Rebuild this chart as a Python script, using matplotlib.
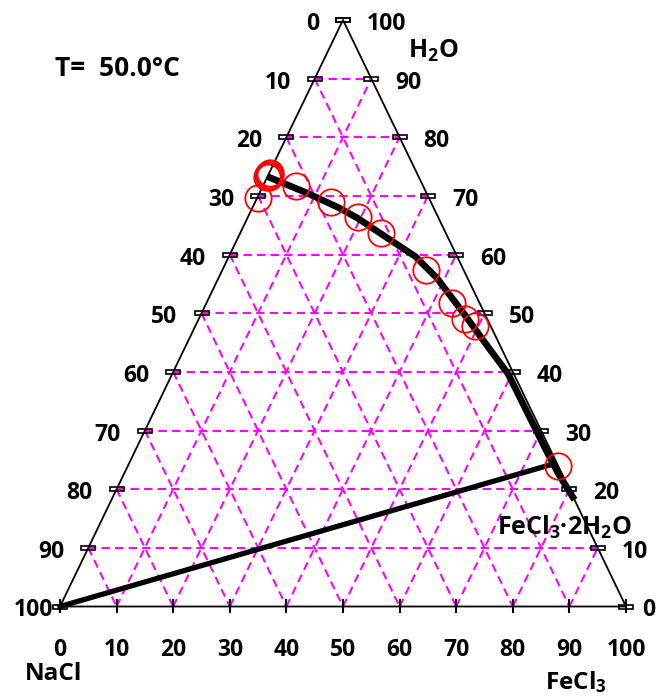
import numpy as np
import matplotlib.pyplot as plt
from matplotlib.patches import Rectangle

plt.rcParams['font.family'] = ['Open Sans', 'DejaVu Sans']
plt.rcParams['font.weight'] = 'bold'
plt.rcParams['mathtext.default'] = 'regular'

# measured compositions, wt% (FeCl3, H2O); NaCl is the rest
pts_fecl3 = [0.0, 0.3, 0.1, 0.4, 0.0, 0.2, 5.8, 13.4, 19.5, 24.8, 36.0, 43.3, 47.0, 49.4, 76.0]
pts_h2o = [73.6, 73.3, 73.9, 73.5, 73.2, 69.6, 71.7, 68.9, 66.4, 63.7, 57.3, 51.8, 49.1, 47.8, 23.9]

# solubility curve, NaCl saturation -> FeCl3.2H2O
curve_fecl3 = [0.0, 8.4, 15.5, 19.5, 27.1, 32.9, 38.6, 46.3, 54.2, 59.3, 72.0, 75.0, 77.0, 81.8]
curve_h2o = [73.3, 70.5, 67.9, 66.2, 62.5, 59.7, 56.0, 50.0, 43.7, 39.7, 27.2, 24.3, 22.4, 18.2]

# tie line NaCl corner -> invariant point
tie_fecl3 = [0.0, 75.0]
tie_h2o = [0.0, 24.3]

ticks = list(range(0, 101, 10))
fs = 16.5

W, H = 566.0, 586.5


def tern(fe, w):
    b = np.asarray(fe, dtype=float) / 100
    c = np.asarray(w, dtype=float) / 100
    return b + c / 2, c


def label(x, y, s, size=fs, **kw):
    # x, y in pixels from the top-left corner, y at the text baseline
    fig.text(x / 666, 1 - y / 698, s, fontsize=size, fontweight='bold', va='baseline', **kw)


fig = plt.figure(figsize=(6.66, 6.98), dpi=100)
ax = fig.add_axes([60 / 666, 91.5 / 698, W / 666, H / 698])
ax.set_xlim(0, 1)
ax.set_ylim(0, 1)
ax.axis('off')

grid_kw = dict(color='#ff00ff', lw=1.5, ls=(0, (4, 2.5)), zorder=1)
for k in ticks[1:-1]:
    ax.plot(*tern([0, 100 - k], [k, k]), **grid_kw)
    ax.plot(*tern([k, k], [0, 100 - k]), **grid_kw)
    ax.plot(*tern([0, 100 - k], [100 - k, 0]), **grid_kw)

# triangle
ax.plot(*tern([0, 100, 0, 0], [0, 0, 100, 0]), color='black', lw=1.3, zorder=2, clip_on=False)

# side ticks (small hollow bars) and labels
tw, th = 14 / W, 4 / H
for k in ticks:
    lx, ly = tern(0, k)
    rx, ry = tern(100 - k, k)
    for x, y in [(lx, ly), (rx, ry)]:
        ax.add_patch(Rectangle((x - tw / 2, y - th / 2), tw, th, fill=False,
                               ec='black', lw=1.2, zorder=3, clip_on=False))
    loff = -7 if k == 0 else -24
    roff = 16 if k == 0 else 24
    ax.annotate(str(100 - k), (lx, ly), xytext=(loff, -10), textcoords='offset pixels',
                ha='right', va='baseline', fontsize=fs, fontweight='bold', annotation_clip=False)
    ax.annotate(str(k), (rx, ry), xytext=(roff, -10), textcoords='offset pixels',
                ha='left', va='baseline', fontsize=fs, fontweight='bold', annotation_clip=False)

# bottom ticks and labels
for k in ticks:
    x = k / 100
    ax.plot([x, x], [-5 / H, 7 / H], color='black', lw=1.5, zorder=3, clip_on=False)
    ax.annotate(str(k), (x, 0), xytext=(0, -50), textcoords='offset pixels',
                ha='center', va='baseline', fontsize=fs, fontweight='bold', annotation_clip=False)

# curves
ax.plot(*tern(curve_fecl3, curve_h2o), color='black', lw=4.8, zorder=4,
        solid_joinstyle='round', solid_capstyle='butt')
ax.plot(*tern(tie_fecl3, tie_h2o), color='black', lw=3.8, zorder=4, clip_on=False)

# data points
ax.plot(*tern(pts_fecl3, pts_h2o), ls='none', marker='o', ms=19, mfc='none',
        mec='#ff0000', mew=1.3, zorder=5)

# component names and temperature
label(25, 680, 'NaCl', 17.5)
label(545, 689, 'FeCl$_3$', 17.5)
label(408, 58, 'H$_2$O', 18)
label(497, 535, 'FeCl$_3$·2H$_2$O', 18)
label(55, 76, 'T=  50.0°C', 19)

fig.savefig('out.png', dpi=100)
